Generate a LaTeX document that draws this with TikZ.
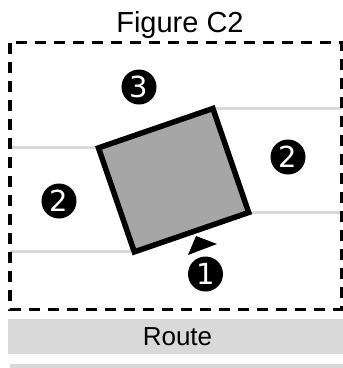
\documentclass[tikz,border=0pt]{standalone}
\usepackage{fontspec}
\usetikzlibrary{backgrounds}
\setmainfont{Liberation Sans}
\newfontfamily\dvfont{DejaVu Sans}
\definecolor{lightgrayline}{RGB}{217,217,217}
\definecolor{boxgray}{RGB}{166,166,166}
\begin{document}
\begin{tikzpicture}[x=1bp,y=-1bp,
  grayline/.style={draw=lightgrayline,line width=3bp},
  dashbox/.style={draw=black,line width=3bp,dash pattern=on 11bp off 8bp},
  numdot/.style={circle,fill=black,minimum size=35bp,inner sep=0pt,text=white,
    font=\dvfont\fontsize{29bp}{29bp}\selectfont},
  barstyle/.style={fill=lightgrayline,draw=none},
  squarebox/.style={draw=black,fill=boxgray,line width=5.5bp,rectangle,minimum width=121bp,
    minimum height=110bp,inner sep=0pt,outer sep=0pt,rotate=19}]
\useasboundingbox (0,0) rectangle (343,368);
% title
\node[anchor=base,font=\fontsize{29bp}{31bp}\selectfont] (title) at (180,32) {Figure C2};
% dashed frame
\draw[dashbox] (10,42.5) rectangle (341,309);
% route bars
\fill[barstyle] (8,319) rectangle (343,354);
\node[font=\fontsize{26bp}{28bp}\selectfont] (route) at (177.5,336.5) {Route};
\fill[barstyle] (10,364) rectangle (343,370);
% square
\node[squarebox] (sq) at (173.6,180.2) {};
\coordinate (rightedge) at (342,0);
\coordinate (leftedge) at (10,0);
\begin{scope}[on background layer]
\draw[grayline] (sq.north east) -- (sq.north east -| rightedge);
\draw[grayline] (sq.south east) -- (sq.south east -| rightedge);
\draw[grayline] (sq.north west) -- (sq.north west -| leftedge);
\draw[grayline] (sq.south west) -- (sq.south west -| leftedge);
\end{scope}
% arrowhead
\fill[black] (188,255) -- (196,236) -- (217,244) -- cycle;
% numbers
\node[numdot] (n3) at (139,87) {3};
\node[numdot] (n2r) at (288,157) {2};
\node[numdot] (n2l) at (59,201) {2};
\node[numdot] (n1) at (205.5,274) {1};
\end{tikzpicture}
\end{document}
